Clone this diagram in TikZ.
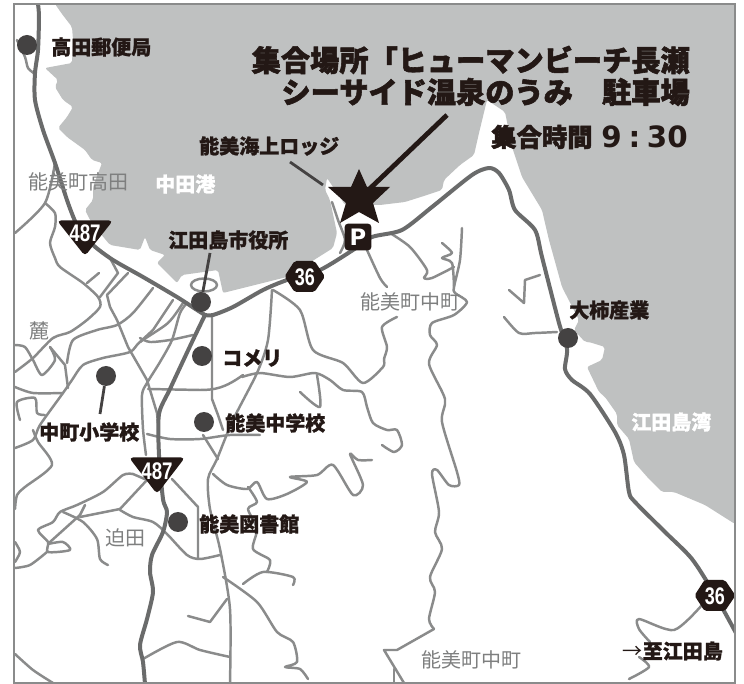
\documentclass[tikz,border=0pt]{standalone}
\usepackage{fontspec}
\setmainfont{Liberation Sans}
\newfontfamily\jp[BoldFeatures={FakeBold=1.9}]{Noto Sans CJK JP}
\newfontfamily\jps[BoldFeatures={FakeBold=1.2}]{Noto Sans CJK JP}
\newfontfamily\wide{DejaVu Sans}
\newcommand{\rd}[2]{\draw[#1] plot[smooth,tension=.45] coordinates {#2};}
\definecolor{seagray}{HTML}{BFC1C1}
\definecolor{roadmain}{HTML}{6A6B6B}
\definecolor{roadminor}{HTML}{8A8B8B}
\definecolor{inkblack}{HTML}{231815}
\definecolor{dotgray}{HTML}{444242}
\definecolor{labelgray}{HTML}{7E7F7F}
\tikzset{
 mainroad/.style={draw=roadmain,line width=3pt,line join=round,line cap=round},
 minorroad/.style={draw=roadminor,line width=1.85pt,line join=round,line cap=round},
 place/.style={circle,fill=dotgray,minimum size=15pt,inner sep=0pt},
 leader/.style={draw=dotgray,line width=2.1pt},
 blabel/.style={font=\jps\bfseries\fontsize{15pt}{15pt}\selectfont,text=inkblack,inner sep=0pt,anchor=west},
 wlabel/.style={font=\jps\bfseries\fontsize{15pt}{15pt}\selectfont,text=white,inner sep=0pt,anchor=west},
 glabel/.style={font=\jps\fontsize{15pt}{15pt}\selectfont,text=labelgray,inner sep=0pt,anchor=west},
 titletext/.style={font=\jp\bfseries\fontsize{21.9pt}{22pt}\selectfont,text=inkblack,inner sep=0pt,anchor=east},
 shieldtext/.style={font=\bfseries\fontsize{18pt}{18pt}\selectfont,text=white,inner sep=0pt},
}
\begin{document}
\begin{tikzpicture}[x=0.75pt,y=-0.75pt]
\useasboundingbox (0,0) rectangle (744,684);
\fill[white] (0,0) rectangle (744,684);
\begin{scope}
\clip (14,4) rectangle (735,683);
% sea
\fill[seagray,rounded corners=1.5pt] (55,4)--(62,14)--(72,27)--(73,40)--(72,63)--(45,68)--(58,80)--(55,87)--(63,100)--(73,107)--(67,117)--(58,128)--(67,137)--(85,150)--(92,160)--(102,163)--(93,187)--(93,200)--(85,210)--(90,220)--(100,233)--(110,245)--(140,250)--(145,237)--(150,250)--(165,255)--(157,263)--(177,283)--(182,275)--(218,270)--(223,293)--(287,277)--(333,248)--(337,233)--(330,200)--(325,190)--(327,178)--(345,205)--(380,205)--(405,202)--(427,195)--(442,190)--(444,180)--(460,165)--(474,155)--(479,133)--(487,100)--(505,112)--(512,147)--(522,177)--(542,210)--(545,223)--(549,240)--(562,287)--(579,320)--(574,330)--(585,342)--(589,342)--(605,347)--(602,360)--(587,367)--(599,392)--(605,397)--(617,414)--(617,425)--(629,439)--(634,462)--(649,479)--(662,492)--(674,492)--(705,505)--(735,524)--(735,4)--cycle;
% minor roads
\rd{minorroad}{(17,40)(25,57)(28,68)(35,74)}
\rd{minorroad}{(55,163)(45,203)(15,233)}
\rd{minorroad}{(45,203)(55,213)(55,227)(50,243)(55,258)(60,267)(83,283)(98,297)(100,307)(87,320)(70,332)(53,338)(33,358)(15,372)}
\rd{minorroad}{(87,283)(99,273)}
\draw[minorroad] (110,258)--(118,273)--(100,297);
\draw[minorroad] (128,273)--(107,295)--(110,307)--(117,320)--(128,347)--(147,380)--(157,413)--(158,423);
\rd{minorroad}{(153,288)(133,313)(117,325)(97,330)(73,340)(67,363)}
\draw[minorroad] (50,347)--(65,365)--(68,388);
\rd{minorroad}{(183,303)(168,323)(140,342)(130,352)(103,358)(83,365)(72,380)(63,393)(40,425)(33,440)(15,448)}
\draw[minorroad] (173,300)--(153,330)--(140,342);
\rd{minorroad}{(140,338)(150,342)(170,340)(193,335)}
\rd{minorroad}{(187,303)(180,313)(172,340)(160,362)(147,383)(142,395)(143,429)(146,455)}
\rd{minorroad}{(15,345)(25,347)(33,360)(42,375)(55,360)(50,347)}
\rd{minorroad}{(15,387)(33,393)(63,393)}
\rd{minorroad}{(20,420)(17,402)(35,398)(37,413)(45,415)}
\draw[minorroad] (148,389)--(200,390) .. controls (215,390) and (225,388) .. (243,375);
\rd{minorroad}{(242,377)(260,373)(290,377)(315,373)(330,380)(343,390)(362,392)(367,407)(373,423)(387,430)(397,430)(402,445)(394,452)(382,445)}
\draw[minorroad] (212,315)--(212,399)--(218,415)--(223,430);
\rd{minorroad}{(147,434)(170,439)(200,439)(230,435)(260,435)}
\rd{minorroad}{(272,290)(268,340)(257,373)(233,420)(217,459)(208,479)(210,509)(220,549)(230,609)(230,683)}
\draw[minorroad] (203,435)--(218,459);
\rd{minorroad}{(213,474)(227,485)(247,489)(257,482)(267,499)(287,494)(307,482)(290,477)(317,475)(333,465)(353,495)(363,485)(350,454)(358,460)(372,460)}
\rd{minorroad}{(273,290)(300,310)(313,350)(343,363)(363,383)(383,367)(384,359)(387,347)(382,327)(397,317)}
\rd{minorroad}{(300,392)(320,407)(317,375)}
\rd{minorroad}{(462,228)(460,260)(454,287)(455,293)(467,302)(454,315)(432,323)(430,335)(437,345)(429,364)(445,399)(442,422)(457,472)(459,485)(449,485)(437,470)(432,474)(439,512)(435,532)(442,549)(430,577)(435,592)(429,619)(434,629)}
\draw[minorroad] (434,629)--(397,650)--(384,650)--(404,683);
\draw[minorroad] (394,669)--(394,683);
\rd{minorroad}{(442,243)(452,253)(442,258)(452,263)(454,287)}
\rd{minorroad}{(390,233)(410,247)(427,270)(424,278)(432,278)(454,267)}
\draw[minorroad] (509,290)--(524,303)--(525,280)--(540,275);
\rd{minorroad}{(504,317)(519,333)(535,333)(557,332)}
\rd{minorroad}{(133,474)(123,475)(103,492)(77,505)(60,512)(53,522)(38,530)(48,542)(48,552)(70,550)(63,542)(48,544)}
\draw[minorroad] (50,542)--(80,515)--(85,505);
\rd{minorroad}{(63,512)(83,522)(97,539)(100,559)(108,565)}
\draw[minorroad] (80,517)--(120,509)--(147,480);
\rd{minorroad}{(120,510)(133,517)(153,522)(167,534)(187,555)(200,559)(220,555)}
\draw[minorroad] (133,474)--(147,480);
\draw[minorroad] (172,479)--(198,507)--(198,559);
\rd{minorroad}{(15,509)(17,495)(25,487)(52,465)(38,442)(33,430)}
\rd{minorroad}{(15,542)(20,552)(15,562)}
\rd{minorroad}{(15,568)(30,565)(47,552)}
\rd{minorroad}{(15,654)(33,670)(53,683)}
\rd{minorroad}{(143,659)(177,642)(200,650)(230,657)}
\draw[minorroad] (227,599)--(210,622)--(188,616);
\rd{minorroad}{(223,577)(257,602)(277,632)(293,642)(297,662)(285,667)(300,669)(308,679)}
\rd{minorroad}{(293,585)(293,577)(263,572)(243,584)}
\rd{minorroad}{(248,487)(257,502)(248,509)(257,529)(253,549)(270,560)(267,572)}
\rd{minorroad}{(702,605)(674,630)(639,619)(639,629)(650,642)}
\rd{minorroad}{(639,657)(649,667)(629,679)}
\rd{minorroad}{(332,202)(338,220)(345,240)(340,253)}
\rd{minorroad}{(367,250)(380,278)(387,287)}
\draw[minorroad] (204,285) ellipse [x radius=13,y radius=6.5];
% main roads
\rd{mainroad}{(38,4)(39,17)(38,50)(35,73)(35,100)(43,130)(55,163)(68,203)(78,227)(93,245)(113,260)(143,277)(177,297)(197,310)(205,315)}
\rd{mainroad}{(205,315)(192,342)(170,389)(159,414)(159,455)(163,499)(167,512)(163,532)(152,555)(150,572)(153,592)(147,619)(140,645)(143,662)(145,684)}
\rd{mainroad}{(205,315)(213,315)(233,307)(263,290)(287,280)(320,270)(353,250)(372,237)(402,230)(432,207)(472,175)(489,168)(499,173)(509,190)(515,210)(535,230)(542,257)(559,323)(567,349)(565,369)(572,380)(590,394)(615,432)(624,455)(629,492)(635,502)(665,532)(692,559)(715,595)(736,633)}
\end{scope}
% places
\node[place] (post) at (27,45) {};
\node[place] (cityhall) at (201,302) {};
\node[place] (komeri) at (202,356) {};
\node[place] (nakaschool) at (106,376) {};
\node[place] (nomischool) at (204,422) {};
\node[place] (library) at (178,522) {};
\node[place] (ogaki) at (568,338) {};
% star and arrow
\node[inner sep=0pt] (starcentre) at (359,199) {};
\coordinate (arrowstart) at (447,115);
\coordinate (lodgestart) at (290,162);
\coordinate (lodgeend) at (323,185);
\coordinate (cityhallstart) at (210,253);
\coordinate (nakastart) at (100,414);
\draw[inkblack,line width=3.6pt] (arrowstart)--(starcentre);
\fill[inkblack] (359,169)--(367,187)--(390,187)--(373,203)--(379,223)--(359,212)--(340,223)--(346,203)--(328,187)--(351,187)--cycle;
\draw[leader] (lodgestart)--(lodgeend);
\draw[leader] (cityhallstart)--(cityhall);
\draw[leader] (nakastart)--(nakaschool);
% P
\node[fill=inkblack,rounded corners=2.5pt,minimum size=20pt,inner sep=0pt,text=white,font=\wide\bfseries\fontsize{17pt}{17pt}\selectfont] (parking) at (358,237) {P};
% shields
\fill[inkblack,rounded corners=3pt] (57,220.5)--(113,220.5)--(85,256)--cycle;
\node[shieldtext] (s487a) at (85,233) {\scalebox{.78}[1]{487}};
\fill[inkblack,rounded corners=3pt] (129,457.5)--(185,457.5)--(157,494)--cycle;
\node[shieldtext] (s487b) at (157,471) {\scalebox{.78}[1]{487}};
\fill[inkblack,rounded corners=1.5pt] (284.5,276.5)--(294.5,261)--(314.5,261)--(325,276.5)--(314.5,292)--(294.5,292)--cycle;
\node[shieldtext] (s36a) at (305,277) {\scalebox{.75}[1]{36}};
\fill[inkblack,rounded corners=1.5pt] (694.5,595.5)--(704.5,580)--(725,580)--(735.5,595.5)--(725,611)--(704.5,611)--cycle;
\node[shieldtext] (s36b) at (715,596) {\scalebox{.75}[1]{36}};
% labels
\node[titletext] (t1) at (690,60) {集合場所「ヒューマンビーチ長瀬};
\node[titletext] (t2) at (690,92) {シーサイド温泉のうみ　駐車場};
\node[font=\jp\bfseries\fontsize{19pt}{19pt}\selectfont,text=inkblack,inner sep=0pt,anchor=west] (t3a) at (491,137) {集合時間};
\node[font=\wide\bfseries\fontsize{22pt}{22pt}\selectfont,text=inkblack,inner sep=0pt,anchor=east] (t3b) at (688,137) {9\kern5pt:\kern5pt30};
\node[blabel] (l1) at (51,47) {高田郵便局};
\node[blabel] (l2) at (199,146) {能美海上ロッジ};
\node[blabel] (l3) at (168,240) {江田島市役所};
\node[wlabel] (l4) at (155,184) {中田港};
\node[glabel] (l5) at (28,182) {能美町高田};
\node[glabel] (l6) at (29,331) {麓};
\node[glabel] (l7) at (360,302) {能美町中町};
\node[blabel] (l8) at (222,358) {コメリ};
\node[blabel] (l9) at (39,432) {中町小学校};
\node[blabel] (l10) at (225,423) {能美中学校};
\node[blabel] (l11) at (199,524) {能美図書館};
\node[glabel] (l12) at (105,538) {迫田};
\node[blabel] (l13) at (569,310) {大柿産業};
\node[wlabel] (l14) at (631,422) {江田島湾};
\node[glabel] (l15) at (421,660) {能美町中町};
\node[blabel,anchor=east] (l16) at (723,651) {{\normalfont\jps →}至江田島};
% frame
\draw[draw=roadminor,line width=2pt] (14,4) rectangle (735,683);
\end{tikzpicture}
\end{document}
